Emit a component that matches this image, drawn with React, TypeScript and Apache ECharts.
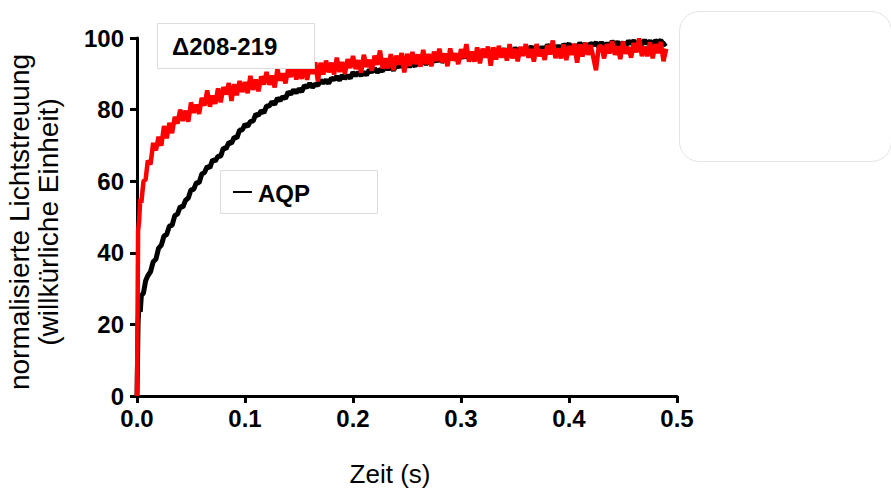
import React, { useEffect, useRef } from "react";
import * as echarts from "echarts";

const timeS = [0, 0.0005, 0.001, 0.002, 0.003, 0.004, 0.006, 0.008,
  0.0100, 0.0125, 0.0150, 0.0175, 0.0200, 0.0225, 0.0250, 0.0275,
  0.0300, 0.0325, 0.0350, 0.0375, 0.0400, 0.0425, 0.0450, 0.0475,
  0.0500, 0.0525, 0.0550, 0.0575, 0.0600, 0.0625, 0.0650, 0.0675,
  0.0700, 0.0725, 0.0750, 0.0775, 0.0800, 0.0825, 0.0850, 0.0875,
  0.0900, 0.0925, 0.0950, 0.0975, 0.1000, 0.1025, 0.1050, 0.1075,
  0.1100, 0.1125, 0.1150, 0.1175, 0.1200, 0.1225, 0.1250, 0.1275,
  0.1300, 0.1325, 0.1350, 0.1375, 0.1400, 0.1425, 0.1450, 0.1475,
  0.1500, 0.1525, 0.1550, 0.1575, 0.1600, 0.1625, 0.1650, 0.1675,
  0.1700, 0.1725, 0.1750, 0.1775, 0.1800, 0.1825, 0.1850, 0.1875,
  0.1900, 0.1925, 0.1950, 0.1975, 0.2000, 0.2025, 0.2050, 0.2075,
  0.2100, 0.2125, 0.2150, 0.2175, 0.2200, 0.2225, 0.2250, 0.2275,
  0.2300, 0.2325, 0.2350, 0.2375, 0.2400, 0.2425, 0.2450, 0.2475,
  0.2500, 0.2525, 0.2550, 0.2575, 0.2600, 0.2625, 0.2650, 0.2675,
  0.2700, 0.2725, 0.2750, 0.2775, 0.2800, 0.2825, 0.2850, 0.2875,
  0.2900, 0.2925, 0.2950, 0.2975, 0.3000, 0.3025, 0.3050, 0.3075,
  0.3100, 0.3125, 0.3150, 0.3175, 0.3200, 0.3225, 0.3250, 0.3275,
  0.3300, 0.3325, 0.3350, 0.3375, 0.3400, 0.3425, 0.3450, 0.3475,
  0.3500, 0.3525, 0.3550, 0.3575, 0.3600, 0.3625, 0.3650, 0.3675,
  0.3700, 0.3725, 0.3750, 0.3775, 0.3800, 0.3825, 0.3850, 0.3875,
  0.3900, 0.3925, 0.3950, 0.3975, 0.4000, 0.4025, 0.4050, 0.4075,
  0.4100, 0.4125, 0.4150, 0.4175, 0.4200, 0.4225, 0.4250, 0.4275,
  0.4300, 0.4325, 0.4350, 0.4375, 0.4400, 0.4425, 0.4450, 0.4475,
  0.4500, 0.4525, 0.4550, 0.4575, 0.4600, 0.4625, 0.4650, 0.4675,
  0.4700, 0.4725, 0.4750, 0.4775, 0.4800, 0.4825, 0.4850, 0.4875,
  0.4900];

const aqpValues = [0, 10, 20.5, 26, 23.5, 28, 28.8, 32.2,
  33.6, 34.7, 37.5, 38.2, 41.3, 42.1, 44.7, 45.1,
  47.5, 47.7, 50.4, 50.8, 52.9, 52.8, 54.7, 55.3,
  57.6, 57.7, 59.6, 59.6, 62.0, 62.4, 64.1, 63.8,
  66.0, 65.6, 67.0, 67.0, 69.3, 69.1, 70.8, 70.6,
  72.3, 72.1, 74.3, 74.3, 75.9, 75.3, 76.7, 76.8,
  78.7, 78.4, 79.7, 79.1, 81.0, 81.0, 82.2, 81.4,
  83.2, 82.5, 83.6, 83.1, 84.9, 84.3, 85.5, 84.7,
  85.8, 85.0, 86.7, 86.2, 87.3, 86.2, 87.1, 86.8,
  88.2, 87.4, 88.3, 87.3, 88.8, 88.4, 89.3, 88.2,
  89.6, 88.7, 89.5, 88.8, 90.4, 89.5, 90.4, 89.5,
  90.5, 89.6, 91.1, 90.5, 91.5, 90.4, 91.2, 90.8,
  92.1, 91.2, 92.1, 91.0, 92.4, 91.9, 92.8, 91.6,
  93.0, 92.0, 92.9, 92.1, 93.7, 92.7, 93.7, 92.7,
  93.7, 92.7, 94.2, 93.5, 94.5, 93.3, 94.1, 93.6,
  94.9, 94.0, 94.8, 93.7, 95.1, 94.6, 95.4, 94.2,
  95.6, 94.6, 95.4, 94.6, 96.2, 95.2, 96.1, 95.1,
  96.1, 95.1, 96.6, 95.9, 96.9, 95.7, 96.5, 96.0,
  97.2, 96.3, 97.1, 96.0, 97.3, 96.8, 97.6, 96.3,
  97.7, 96.7, 97.4, 96.6, 98.1, 97.1, 97.9, 96.9,
  97.8, 96.8, 98.2, 97.5, 98.4, 97.2, 97.9, 97.4,
  98.6, 97.6, 98.4, 97.2, 98.5, 98.0, 98.7, 97.5,
  98.8, 97.7, 98.5, 97.6, 99.1, 98.1, 98.9, 97.9,
  98.8, 97.7, 99.2, 98.4, 99.3, 98.0, 98.8, 98.2,
  99.4, 98.4, 99.2, 98.0, 99.3, 98.7, 99.4, 98.1,
  98.6];

const deltaValues = [0, 22, 46, 49, 55, 54, 60, 60.5,
  65.8, 64.7, 70.7, 68.6, 72.4, 69.9, 75.4, 72.0,
  76.3, 73.4, 78.0, 76.1, 80.0, 76.8, 79.7, 76.6,
  82.0, 79.1, 81.4, 78.8, 83.3, 81.1, 85.4, 80.8,
  83.9, 81.6, 85.9, 82.0, 86.3, 84.2, 87.4, 82.4,
  87.1, 84.0, 88.0, 84.9, 87.7, 84.6, 89.4, 85.5,
  88.4, 85.1, 89.3, 87.0, 90.5, 86.9, 89.5, 86.2,
  91.3, 88.1, 90.1, 87.3, 91.5, 89.1, 93.2, 88.4,
  91.2, 88.6, 92.6, 88.3, 92.4, 90.0, 93.2, 87.9,
  93.1, 89.8, 93.7, 90.4, 93.1, 89.8, 94.5, 90.5,
  93.3, 90.0, 94.1, 91.6, 95.0, 91.3, 93.8, 90.3,
  95.3, 91.9, 93.9, 90.9, 95.1, 92.5, 96.5, 91.5,
  94.3, 91.5, 95.5, 91.0, 95.1, 92.6, 95.8, 90.4,
  95.6, 92.2, 96.1, 92.7, 95.4, 92.0, 96.7, 92.7,
  95.5, 92.1, 96.2, 93.6, 97.0, 93.2, 95.7, 92.1,
  97.1, 93.7, 95.7, 92.7, 96.9, 94.4, 98.3, 93.4,
  96.2, 93.4, 97.4, 92.9, 97.0, 94.5, 97.6, 92.3,
  97.4, 94.0, 97.8, 94.5, 97.1, 93.7, 98.3, 94.3,
  97.0, 93.5, 97.5, 95.0, 98.3, 94.5, 96.9, 93.4,
  98.3, 94.9, 96.8, 93.9, 98.0, 95.4, 99.3, 94.4,
  97.1, 94.3, 98.2, 93.8, 97.8, 95.3, 98.4, 93.1,
  98.2, 94.8, 98.7, 95.3, 98.0, 94.6, 91.0, 97.5,
  97.8, 94.3, 98.3, 95.7, 99.1, 95.3, 97.7, 94.1,
  99.0, 95.6, 97.5, 94.5, 98.6, 96.0, 99.9, 94.9,
  97.6, 94.9, 98.8, 94.3, 98.3, 95.8, 98.9, 93.5,
  97.0];

const seriesNames = ["AQP", "\u0394208-219"];
const xTitle = "Zeit (s)";
const yTitleLines = ["normalisierte Lichtstreuung", "(willk\u00fcrliche Einheit)"];

const FONT = "'Liberation Sans', Arial, sans-serif";

export default function App() {
  const ref = useRef<HTMLDivElement>(null);
  useEffect(() => {
    if (!ref.current) return;
    const chart = echarts.init(ref.current, null, { renderer: "svg" });
    const axisCommon = {
      axisLine: { show: true, onZero: false, lineStyle: { color: "#000", width: 3 } },
      axisTick: { show: true, length: 7, lineStyle: { color: "#000", width: 3 } },
      splitLine: { show: false },
    };
    chart.setOption({
      animation: false,
      backgroundColor: "#fff",
      grid: { left: 137, right: 214, top: 38, bottom: 93, containLabel: false },
      xAxis: {
        type: "value",
        min: 0,
        max: 0.5,
        interval: 0.1,
        ...axisCommon,
        axisLabel: {
          formatter: (v: number) => v.toFixed(1),
          fontSize: 24,
          fontWeight: "bold",
          color: "#000",
          fontFamily: FONT,
          margin: 10,
        },
      },
      yAxis: {
        type: "value",
        min: 0,
        max: 100,
        interval: 20,
        ...axisCommon,
        axisLabel: {
          fontSize: 24,
          fontWeight: "bold",
          color: "#000",
          fontFamily: FONT,
          margin: 13,
        },
      },
      series: [
        {
          name: seriesNames[0],
          type: "line",
          showSymbol: false,
          data: timeS.map((t, i) => [t, aqpValues[i]]),
          lineStyle: { color: "#000", width: 5 },
          itemStyle: { color: "#000" },
          z: 3,
        },
        {
          name: seriesNames[1],
          type: "line",
          showSymbol: false,
          data: timeS.map((t, i) => [t, deltaValues[i]]),
          lineStyle: { color: "#ff0000", width: 4.5 },
          itemStyle: { color: "#ff0000" },
          z: 4,
        },
      ],
      graphic: [
        {
          type: "text",
          x: 390,
          y: 474,
          style: { text: xTitle, font: `26px ${FONT}`, fill: "#000", textAlign: "center", textVerticalAlign: "middle" },
        },
        {
          type: "text",
          x: 19,
          y: 222,
          rotation: Math.PI / 2,
          style: { text: yTitleLines[0], font: `28px ${FONT}`, fill: "#000", textAlign: "center", textVerticalAlign: "middle" },
        },
        {
          type: "text",
          x: 48,
          y: 222,
          rotation: Math.PI / 2,
          style: { text: yTitleLines[1], font: `28px ${FONT}`, fill: "#000", textAlign: "center", textVerticalAlign: "middle" },
        },
        {
          type: "rect",
          shape: { x: 157.5, y: 23.5, width: 157, height: 45 },
          style: { fill: "#fff", stroke: "#dcdcdc", lineWidth: 1 },
          z: 10,
        },
        {
          type: "text",
          x: 172,
          y: 46,
          z: 11,
          style: { text: seriesNames[1], font: `bold 24px ${FONT}`, fill: "#000", textAlign: "left", textVerticalAlign: "middle" },
        },
        {
          type: "rect",
          shape: { x: 220.5, y: 170.5, width: 157, height: 43 },
          style: { fill: "#fff", stroke: "#dcdcdc", lineWidth: 1 },
          z: 10,
        },
        {
          type: "line",
          shape: { x1: 233, y1: 192, x2: 252, y2: 192 },
          style: { stroke: "#000", lineWidth: 2 },
          z: 11,
        },
        {
          type: "text",
          x: 258,
          y: 193,
          z: 11,
          style: { text: seriesNames[0], font: `bold 24px ${FONT}`, fill: "#000", textAlign: "left", textVerticalAlign: "middle" },
        },
        {
          type: "rect",
          shape: { x: 679.5, y: 11.5, width: 212, height: 150, r: 20 },
          style: { fill: "#fff", stroke: "#e4e4e4", lineWidth: 1 },
          z: 10,
        },
      ],
    });
    return () => chart.dispose();
  }, []);
  return (
    <div
      ref={ref}
      style={{ position: "fixed", left: 0, top: 0, width: 891, height: 489 }}
    />
  );
}
